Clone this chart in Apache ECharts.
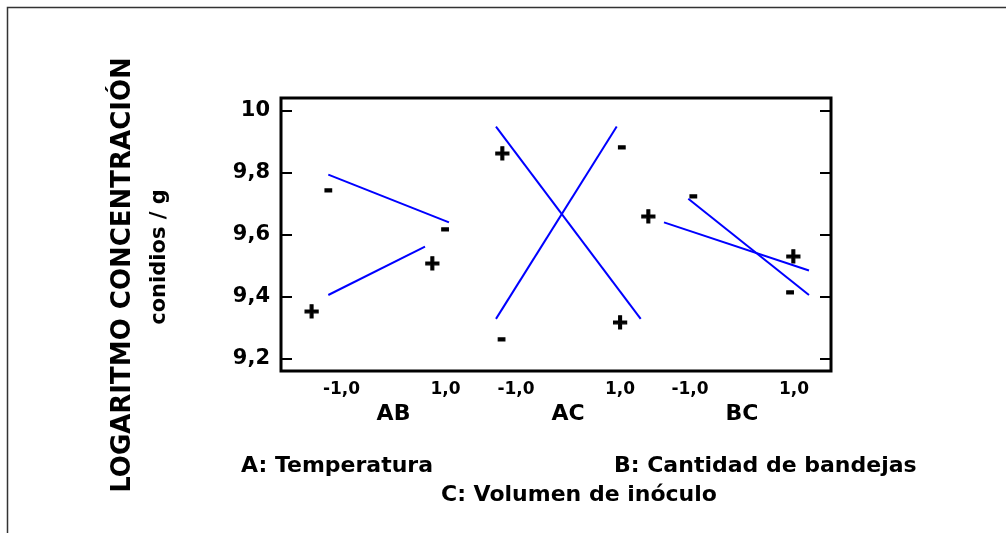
<!DOCTYPE html>
<html>
<head>
<meta charset="utf-8">
<script src="https://cdn.jsdelivr.net/npm/echarts@6/dist/echarts.min.js"></script>
<style>
  html, body { margin: 0; padding: 0; background: #fff; }
  #chart { width: 1006px; height: 533px; }
</style>
</head>
<body>
<div id="chart"></div>
<script>
// Interaction plot: log concentration (conidios / g) for the AB, AC and BC interactions.
const yTicks = [9.2, 9.4, 9.6, 9.8, 10.0];
const levelTicks = [-1, 1];
const panelNames = ['AB', 'AC', 'BC'];

// Each line: two points [level position, mean log concentration]
const abLineMinus = [[-1.254, 9.794], [1.067, 9.640]];
const abLinePlus  = [[-1.254, 9.406], [0.606, 9.562]];
const acLinePlus  = [[-1.385, 9.949], [1.398, 9.329]];
const acLineMinus = [[-1.385, 9.329], [0.937, 9.949]];
const bcLinePlus  = [[-1.500, 9.640], [1.288, 9.485]];
const bcLineMinus = [[-1.033, 9.716], [1.288, 9.406]];

// Level markers: [level position, value, sign]
const abSigns = [[-1.254, 9.745, '-'], [0.990, 9.619, '-'], [-1.573, 9.347, '+'], [0.746, 9.503, '+']];
const acSigns = [[-1.263, 9.858, '+'], [1.033, 9.883, '-'], [-1.275, 9.265, '-'], [1.000, 9.314, '+']];
const bcSigns = [[-0.937, 9.727, '-'], [-1.802, 9.656, '+'], [0.987, 9.525, '+'], [0.923, 9.417, '-']];

const factorNotes = ['A: Temperatura', 'B: Cantidad de bandejas', 'C: Volumen de inóculo'];
const yTitle = ['LOGARITMO CONCENTRACIÓN', 'conidios / g'];

const Y_MIN = 9.161, Y_MAX = 10.041;
const FONT = '"DejaVu Sans", sans-serif';
const PLOT = { left: 281, top: 98, width: 550, height: 273 };
const panelCenters = [393.5, 568, 742];
const panelWidth = 200, unitPx = 52;
const halfRange = panelWidth / 2 / unitPx;

const fmt = v => (Math.abs(v - 10) < 1e-9 ? '10' : v.toFixed(1).replace('.', ','));

const grids = [Object.assign({ show: true, borderColor: '#000', borderWidth: 3, backgroundColor: 'transparent' }, PLOT)];
panelCenters.forEach(c => grids.push({ left: c - panelWidth / 2, top: PLOT.top, width: panelWidth, height: PLOT.height }));

const xAxes = [{ gridIndex: 0, type: 'value', min: 0, max: 1, show: false }];
panelNames.forEach((name, i) => xAxes.push({
  gridIndex: i + 1, type: 'value', min: -halfRange, max: halfRange,
  axisLine: { show: false }, axisTick: { show: false }, splitLine: { show: false },
  axisLabel: { customValues: levelTicks, formatter: v => v.toFixed(1).replace('.', ','),
    fontFamily: FONT, fontWeight: 'bold', fontSize: 17, color: '#000', margin: 10 },
  name: name, nameLocation: 'middle', nameGap: 30,
  nameTextStyle: { fontFamily: FONT, fontWeight: 'bold', fontSize: 22, color: '#000' }
}));

const yAxes = [
  { gridIndex: 0, type: 'value', min: Y_MIN, max: Y_MAX, position: 'left',
    axisLine: { show: false }, splitLine: { show: false },
    axisTick: { inside: true, length: 11, customValues: yTicks, lineStyle: { color: '#000', width: 2 } },
    axisLabel: { customValues: yTicks, formatter: fmt, fontFamily: FONT, fontWeight: 'bold', fontSize: 21, color: '#000', margin: 11 } },
  { gridIndex: 0, type: 'value', min: Y_MIN, max: Y_MAX, position: 'right',
    axisLine: { show: false }, splitLine: { show: false }, axisLabel: { show: false },
    axisTick: { inside: true, length: 11, customValues: yTicks, lineStyle: { color: '#000', width: 2 } } }
];
panelNames.forEach((n, i) => yAxes.push({ gridIndex: i + 1, type: 'value', min: Y_MIN, max: Y_MAX, show: false }));

const lineStyle = { color: '#0000ff', width: 2 };
const lineSeries = (data, idx) => ({
  type: 'line', xAxisIndex: idx, yAxisIndex: idx + 1, data: data,
  symbol: 'none', lineStyle: lineStyle, silent: true, clip: false
});
const signSeries = (data, idx) => ({
  type: 'scatter', xAxisIndex: idx, yAxisIndex: idx + 1, data: data,
  symbolSize: 0, silent: true, clip: false, itemStyle: { opacity: 1, color: '#000' },
  label: { show: true, position: 'inside', formatter: p => p.data[2],
    fontFamily: '"Liberation Sans", Arial, sans-serif', fontWeight: 'bold', fontSize: 26,
    color: '#000', opacity: 1, textBorderColor: '#000', textBorderWidth: 1.2 }
});

const chart = echarts.init(document.getElementById('chart'), null, { renderer: 'canvas' });
chart.setOption({
  animation: false,
  backgroundColor: '#fff',
  grid: grids,
  xAxis: xAxes,
  yAxis: yAxes,
  series: [
    lineSeries(abLineMinus, 1), lineSeries(abLinePlus, 1), signSeries(abSigns, 1),
    lineSeries(acLinePlus, 2), lineSeries(acLineMinus, 2), signSeries(acSigns, 2),
    lineSeries(bcLinePlus, 3), lineSeries(bcLineMinus, 3), signSeries(bcSigns, 3)
  ],
  graphic: [
    { type: 'polyline', shape: { points: [[7.5, 533], [7.5, 7.5], [1006, 7.5]] },
      style: { stroke: '#333', lineWidth: 1.5, fill: null }, silent: true },
    { type: 'text', x: 123, y: 275, rotation: Math.PI / 2,
      style: { text: yTitle[0], fontFamily: FONT, fontWeight: 'bold', fontSize: 26, fill: '#000', align: 'center', verticalAlign: 'middle' } },
    { type: 'text', x: 160, y: 257, rotation: Math.PI / 2,
      style: { text: yTitle[1], fontFamily: FONT, fontWeight: 'bold', fontSize: 21, fill: '#000', align: 'center', verticalAlign: 'middle' } },
    { type: 'text', x: 241, y: 466,
      style: { text: factorNotes[0], fontFamily: FONT, fontWeight: 'bold', fontSize: 22, fill: '#000', align: 'left', verticalAlign: 'middle' } },
    { type: 'text', x: 614, y: 466,
      style: { text: factorNotes[1], fontFamily: FONT, fontWeight: 'bold', fontSize: 22, fill: '#000', align: 'left', verticalAlign: 'middle' } },
    { type: 'text', x: 441, y: 495,
      style: { text: factorNotes[2], fontFamily: FONT, fontWeight: 'bold', fontSize: 22, fill: '#000', align: 'left', verticalAlign: 'middle' } }
  ]
});
</script>
</body>
</html>
